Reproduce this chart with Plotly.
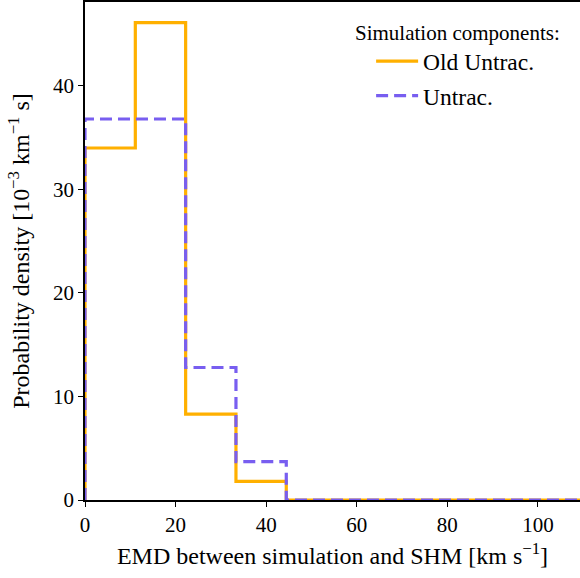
import plotly.graph_objects as go

bin_width = 100 / 9
n_bins = 12
bin_edges = [i * bin_width for i in range(n_bins + 1)]
old_untrac = [34.0, 46.1, 8.3, 1.8, 0, 0, 0, 0, 0, 0, 0, 0]
untrac = [36.8, 36.8, 12.8, 3.7, 0, 0, 0, 0, 0, 0, 0, 0]

def step_xy(edges, vals):
    xs = [edges[0]]
    ys = [0]
    for i, v in enumerate(vals):
        xs += [edges[i], edges[i + 1]]
        ys += [v, v]
    xs.append(edges[-1])
    ys.append(0)
    return xs, ys

fig = go.Figure()
x1, y1 = step_xy(bin_edges, old_untrac)
x2, y2 = step_xy(bin_edges, untrac)
fig.add_trace(go.Scatter(x=x1, y=y1, mode="lines", name="Old Untrac.",
                         line=dict(color="#FFB000", width=3.2), legendgroup="a"))
fig.add_trace(go.Scatter(x=x2, y=y2, mode="lines", name="Untrac.",
                         line=dict(color="#785EF0", width=3.2, dash="12px,6px"), legendgroup="b"))

font = "Liberation Serif"
fig.update_layout(
    width=580, height=578,
    margin=dict(l=85, r=0, t=2, b=78, autoexpand=False),
    plot_bgcolor="white", paper_bgcolor="white",
    font=dict(family=font, size=20, color="black"),
    showlegend=True,
    legend=dict(x=0.578, y=0.925, xanchor="left", yanchor="top",
                font=dict(size=23.5), tracegroupgap=1, traceorder="grouped",
                itemwidth=42, bgcolor="rgba(0,0,0,0)"),
    annotations=[dict(text="Simulation components:", x=0.541, y=0.966,
                      xref="paper", yref="paper", xanchor="left", yanchor="top",
                      showarrow=False, font=dict(size=21))],
    xaxis=dict(range=[0, 109.3], showline=True, linecolor="black", linewidth=1.5,
               mirror=True, ticks="outside", ticklen=5, tickcolor="black",
               dtick=20, showgrid=False, zeroline=False, automargin=False,
               tickfont=dict(size=21),
               title=dict(text="EMD between simulation and SHM [km s<sup>−1</sup>]", standoff=11)),
    yaxis=dict(range=[0, 48.1], showline=True, linecolor="black", linewidth=1.5,
               ticks="outside", ticklen=5, tickcolor="black",
               dtick=10, showgrid=False, zeroline=False, automargin=False,
               tickfont=dict(size=21),
               title=dict(text="Probability density [10<sup>−3</sup> km<sup>−1</sup> s]", standoff=17)),
)
fig.write_html("out.html", config={"displayModeBar": False},
               post_script="document.body.style.margin='0px';")
